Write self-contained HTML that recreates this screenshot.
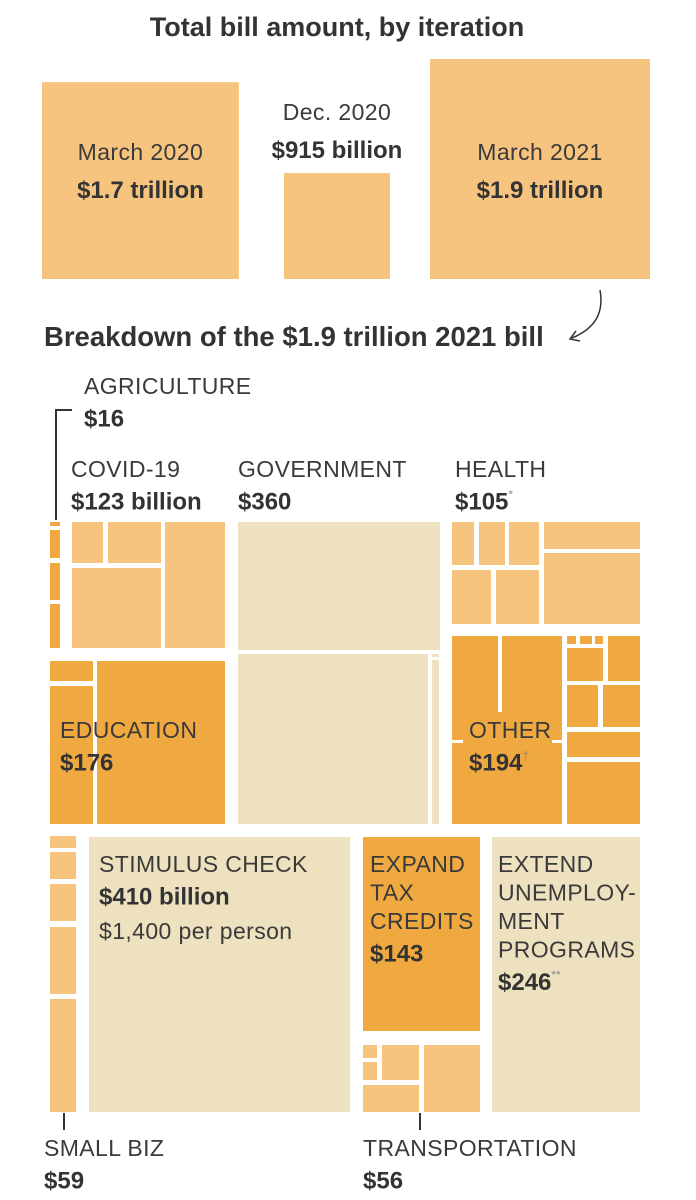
<!DOCTYPE html>
<html><head><meta charset="utf-8"><style>
html,body{margin:0;padding:0;background:#fff;}
svg{display:block;font-family:"Liberation Sans",sans-serif;}
.l{font-size:23px;fill:#3a3a3a;letter-spacing:0.4px;}
.b{font-size:24px;font-weight:bold;fill:#333;}
</style></head><body>
<svg id="c" width="696" height="1200" viewBox="0 0 696 1200">
<text x="337" y="36" text-anchor="middle" font-size="27" font-weight="bold" fill="#333">Total bill amount, by iteration</text>
<g id="iter"></g>
<path d="M600 290 C604 312 596 328 572 338" fill="none" stroke="#333" stroke-width="1.5"/>
<path d="M576 331 L570 339 L580 341" fill="none" stroke="#333" stroke-width="1.5"/>
<text x="44" y="346" font-size="27.5" font-weight="bold" fill="#333">Breakdown of the $1.9 trillion 2021 bill</text>
<path d="M72 410 H56 V520" fill="none" stroke="#333" stroke-width="2"/>
<path d="M64 1113 V1130 M420 1113 V1130" stroke="#333" stroke-width="2"/>
<g id="tm"></g>
<g id="labels"></g>
</svg>
<script>
const iterNames=["March 2020","Dec. 2020","March 2021"];
const iterValues=[1700,915,1900];
const iterLabels=["$1.7 trillion","$915 billion","$1.9 trillion"];

const categories=["Agriculture","COVID-19","Government","Health","Education","Other","Small biz","Stimulus check","Expand tax credits","Transportation","Extend unemployment programs"];
const catValues=[16,123,360,105,176,194,59,410,143,56,246];

const NS="http://www.w3.org/2000/svg";
function mk(tag,attrs,parent){const e=document.createElementNS(NS,tag);for(const k in attrs)e.setAttribute(k,attrs[k]);parent.appendChild(e);return e;}
const L="#f6c47f",B="#ede1bf",D="#efa940";

const side=v=>v/1900*220;
const iterX=[42,284,430];
const ig=document.getElementById('iter');
iterValues.forEach((v,i)=>{
  const s=side(v);
  const r=mk('rect',{x:iterX[i],y:279-s,width:s,height:s,fill:L},ig);
  
  
  const cx=iterX[i]+s/2;
  const ty = i===1 ? 120 : 160;
  const t1=mk('text',{x:cx,y:ty,'text-anchor':'middle',class:'l','font-size':'24'},ig);t1.textContent=iterNames[i];
  
  
  const t2=mk('text',{x:cx,y:ty+38,'text-anchor':'middle',class:'b','font-size':'24.5'},ig);t2.textContent=iterLabels[i];
  
  
});

const tiles=[
[50,522,60,526,D,0],[50,530,60,558,D,0],[50,563,60,600,D,0],[50,604,60,648,D,0],
[72,522,103,563,L,1],[108,522,161,563,L,1],[72,568,161,648,L,1],[165,522,225,648,L,1],
[238,522,440,650,B,2],[238,654,428,824,B,2],[432,660,439,824,B,2],[432,654,439,657,B,2],
[452,522,474,565,L,3],[479,522,505,565,L,3],[509,522,539,565,L,3],[544,522,640,549,L,3],[544,553,640,624,L,3],[452,570,491,624,L,3],[496,570,539,624,L,3],
[50,661,93,681,D,4],[50,686,93,824,D,4],[97,661,225,824,D,4],
[452,636,562,824,D,5],[567,636,576,644,D,5],[580,636,592,644,D,5],[595,636,603,644,D,5],[567,648,603,681,D,5],[608,636,640,681,D,5],[567,685,598,727,D,5],[603,685,640,727,D,5],[567,732,640,757,D,5],[567,762,640,824,D,5],
[50,836,76,848,L,6],[50,852,76,879,L,6],[50,884,76,921,L,6],[50,927,76,994,L,6],[50,999,76,1112,L,6],
[89,837,350,1112,B,7],
[363,837,480,1031,D,8],
[363,1045,377,1058,L,9],[363,1062,377,1080,L,9],[382,1045,419,1080,L,9],[363,1085,419,1112,L,9],[424,1045,480,1112,L,9],
[492,837,640,1112,B,10]];
const tg=document.getElementById('tm');
tiles.forEach(t=>{
  const r=mk('rect',{x:t[0],y:t[1],width:t[2]-t[0],height:t[3]-t[1],fill:t[4]},tg);
  
  
});
mk('rect',{x:498,y:636,width:4,height:76,fill:'#fff'},tg);
mk('rect',{x:452,y:740,width:11,height:3,fill:'#fff'},tg);
mk('rect',{x:552,y:740,width:10,height:3,fill:'#fff'},tg);

const lg=document.getElementById('labels');
const labelDefs=[
[84,394,["AGRICULTURE"],"$"+catValues[0],""],
[71,477,["COVID-19"],"$"+catValues[1]+" billion",""],
[238,477,["GOVERNMENT"],"$"+catValues[2],""],
[455,477,["HEALTH"],"$"+catValues[3],"*"],
[60,738,["EDUCATION"],"$"+catValues[4],""],
[469,738,["OTHER"],"$"+catValues[5],"†"],
[44,1156,["SMALL BIZ"],"$"+catValues[6],""],
[99,872,["STIMULUS CHECK"],"$"+catValues[7]+" billion",""],
[370,872,["EXPAND","TAX","CREDITS"],"$"+catValues[8],""],
[363,1156,["TRANSPORTATION"],"$"+catValues[9],""],
[498,872,["EXTEND","UNEMPLOY-","MENT","PROGRAMS"],"$"+catValues[10],"**"]];
labelDefs.forEach(d=>{
  let y=d[1];
  d[2].forEach((ln,i)=>{
    const t=mk('text',{x:d[0],y:y,class:'l'},lg);t.textContent=ln;
    
    
    y+=28.5;
  });
  y+=4;
  const v=mk('text',{x:d[0],y:y,class:'b'},lg);v.textContent=d[3];
  
  
  if(d[4]){const s=mk('tspan',{'font-size':'12','font-weight':'normal',dy:'-11',fill:'#888'},v);s.textContent=d[4];}
});
const sub=mk('text',{x:99,y:939,class:'l','font-size':'24'},lg);sub.textContent="$1,400 per person";


</script>
</body></html>
